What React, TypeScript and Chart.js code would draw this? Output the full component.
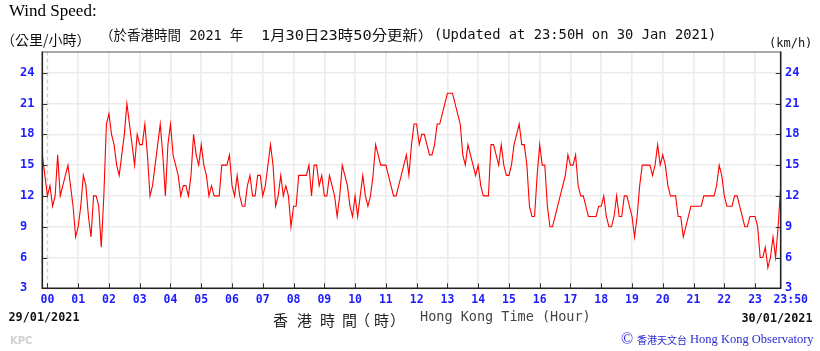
import { useEffect, useRef } from 'react';
import { Chart, registerables } from 'chart.js';

Chart.register(...registerables);

// ---- data ----
const START_MINUTE = -10; // 23:50 on 29/01/2021
const STEP_MINUTES = 5;
const END_MINUTE = 1430; // 23:50 on 30/01/2021

const HOUR_LABELS = ['00', '01', '02', '03', '04', '05', '06', '07', '08', '09', '10', '11',
  '12', '13', '14', '15', '16', '17', '18', '19', '20', '21', '22', '23'];
const END_LABEL = '23:50';
const START_DATE = '29/01/2021';
const END_DATE = '30/01/2021';

const Y_TICKS = [3, 6, 9, 12, 15, 18, 21, 24];
const Y_MIN = 3;
const Y_MAX = 26.07;

// wind speed (km/h), every 5 minutes from 23:50 (29/01) to 23:50 (30/01)
const windSpeed = [
  16, 14,
  12, 13, 11, 12, 16, 12, 13, 14, 15, 13, 11, 8,   // 00
  9, 11, 14, 13, 10, 8, 12, 12, 11, 7, 12, 19,     // 01
  20, 18, 17, 15, 14, 16, 18, 21, 19, 17, 15, 18,  // 02
  17, 17, 19, 16, 12, 13, 15, 17, 19, 16, 12, 17,  // 03
  19, 16, 15, 14, 12, 13, 13, 12, 14, 18, 16, 15,  // 04
  17, 15, 14, 12, 13, 12, 12, 12, 15, 15, 15, 16,  // 05
  13, 12, 14, 12, 11, 11, 13, 14, 12, 12, 14, 14,  // 06
  12, 13, 15, 17, 15, 11, 12, 14, 12, 13, 12, 9,   // 07
  11, 11, 14, 14, 14, 14, 15, 12, 15, 15, 13, 14,  // 08
  12, 12, 14, 13, 12, 10, 12, 15, 14, 13, 11, 10,  // 09
  12, 10, 12, 14, 12, 11, 12, 14, 17, 16, 15, 15,  // 10
  15, 14, 13, 12, 12, 13, 14, 15, 16, 14, 17, 19,  // 11
  19, 17, 18, 18, 17, 16, 16, 17, 19, 19, 20, 21,  // 12
  22, 22, 22, 21, 20, 19, 16, 15, 17, 16, 15, 14,  // 13
  15, 13, 12, 12, 12, 17, 17, 16, 15, 17, 15, 14,  // 14
  14, 15, 17, 18, 19, 17, 17, 15, 11, 10, 10, 14,  // 15
  17, 15, 15, 11, 9, 9, 10, 11, 12, 13, 14, 16,    // 16
  15, 15, 16, 13, 12, 12, 11, 10, 10, 10, 10, 11,  // 17
  11, 12, 10, 9, 9, 10, 12, 10, 10, 12, 12, 11,    // 18
  10, 8, 10, 13, 15, 15, 15, 15, 14, 15, 17, 15,   // 19
  16, 15, 13, 12, 12, 12, 10, 10, 8, 9, 10, 11,    // 20
  11, 11, 11, 11, 12, 12, 12, 12, 12, 13, 15, 14,  // 21
  12, 11, 11, 11, 12, 12, 11, 10, 9, 9, 10, 10,    // 22
  10, 9, 6, 6, 7, 5, 6, 8, 6, 9, 13,               // 23
];

const BLUE = '#1c1cff';
const MONO = '"DejaVu Sans Mono", monospace';

function txt(ctx: CanvasRenderingContext2D, s: string, x: number, y: number, font: string, color: string, align: CanvasTextAlign = 'left') {
  ctx.font = font;
  ctx.fillStyle = color;
  ctx.textAlign = align;
  ctx.textBaseline = 'middle';
  ctx.fillText(s, x, y);
}

// draw text stretched horizontally to span a given width
function txtSpan(ctx: CanvasRenderingContext2D, s: string, x: number, y: number, width: number, font: string, color: string) {
  ctx.save();
  ctx.font = font;
  ctx.fillStyle = color;
  ctx.textAlign = 'left';
  ctx.textBaseline = 'middle';
  const w = ctx.measureText(s).width || width;
  ctx.translate(x, y);
  ctx.scale(width / w, 1);
  ctx.fillText(s, 0, 0);
  ctx.restore();
}

const decor = {
  id: 'decor',
  beforeDatasetsDraw(chart: any) {
    const { ctx, chartArea: a, scales } = chart;
    const x0 = scales.x.getPixelForValue(0);
    ctx.save();
    ctx.strokeStyle = '#d2d2d2';
    ctx.lineWidth = 1.5;
    ctx.setLineDash([4, 3]);
    ctx.beginPath();
    ctx.moveTo(x0, a.top);
    ctx.lineTo(x0, a.bottom);
    ctx.stroke();
    ctx.restore();
  },
  afterDraw(chart: any) {
    const { ctx, chartArea: a, scales } = chart;
    ctx.save();
    // inward tick marks
    ctx.strokeStyle = '#333';
    ctx.lineWidth = 1;
    ctx.beginPath();
    HOUR_LABELS.forEach((_, h) => {
      const x = Math.round(scales.x.getPixelForValue(h * 60)) + 0.5;
      ctx.moveTo(x, a.bottom);
      ctx.lineTo(x, a.bottom - 5);
    });
    Y_TICKS.forEach((v) => {
      const y = Math.round(scales.y.getPixelForValue(v)) + 0.5;
      ctx.moveTo(a.left, y);
      ctx.lineTo(a.left + 5, y);
      ctx.moveTo(a.right, y);
      ctx.lineTo(a.right - 5, y);
    });
    ctx.stroke();
    // box
    ctx.strokeStyle = '#555';
    ctx.lineWidth = 1;
    ctx.beginPath();
    ctx.moveTo(a.left, a.top + 0.5);
    ctx.lineTo(a.right, a.top + 0.5);
    ctx.stroke();
    ctx.strokeStyle = '#222';
    ctx.lineWidth = 1.6;
    ctx.beginPath();
    ctx.moveTo(a.left, a.top);
    ctx.lineTo(a.left, a.bottom);
    ctx.lineTo(a.right, a.bottom);
    ctx.lineTo(a.right, a.top);
    ctx.stroke();

    // header
    ctx.font = '17px "Liberation Serif", serif';
    ctx.fillStyle = '#000';
    ctx.textAlign = 'left';
    ctx.textBaseline = 'alphabetic';
    ctx.fillText('Wind Speed:', 9, 15.5);
    txt(ctx, '（公里/小時）', 1, 40, '14px "Noto Sans CJK TC"', '#111');
    const hdrFont = `13.5px ${MONO}, "Noto Sans CJK TC"`;
    txt(ctx, '（於香港時間 2021 年', 100, 36, hdrFont, '#111');
    txtSpan(ctx, '1月30日23時50分更新）', 261, 36, 172, hdrFont, '#111');
    txt(ctx, '(Updated at 23:50H on 30 Jan 2021)', 434, 35.5, `13.8px ${MONO}`, '#111');
    txt(ctx, '(km/h)', 769, 44, `12px ${MONO}`, '#111');

    // footer
    txt(ctx, END_LABEL, scales.x.getPixelForValue(END_MINUTE) + 10, 300, `bold 11.5px ${MONO}`, BLUE, 'center');
    txt(ctx, START_DATE, 8.5, 318, `bold 11.8px ${MONO}`, '#111');
    txt(ctx, END_DATE, 812.5, 319, `bold 11.8px ${MONO}`, '#111', 'right');
    const cjk = '15px "Noto Sans CJK TC"';
    txt(ctx, '香', 273, 320, cjk, '#222');
    txt(ctx, '港', 297, 320, cjk, '#222');
    txt(ctx, '時', 320, 320, cjk, '#222');
    txt(ctx, '間', 342, 320, cjk, '#222');
    txt(ctx, '（', 355, 320, cjk, '#222');
    txt(ctx, '時', 374, 320, cjk, '#222');
    txt(ctx, '）', 390, 320, cjk, '#222');
    txt(ctx, 'Hong Kong Time (Hour)', 420, 317.5, `13.5px ${MONO}`, '#444');
    txt(ctx, 'KPC', 10, 341, 'bold 10px "DejaVu Sans"', '#d0d0d0');
    const obs = '#2b2bd0';
    txt(ctx, '©', 621, 340, '16px "Liberation Serif"', obs);
    txt(ctx, '香港天文台', 637, 340, '10px "Noto Sans CJK TC"', obs);
    txt(ctx, 'Hong Kong Observatory', 690, 340, '12.5px "Liberation Serif"', obs);
    ctx.restore();
  },
};

export default function App() {
  const ref = useRef<HTMLCanvasElement>(null);
  useEffect(() => {
    document.body.style.margin = '0';
    const canvas = ref.current!;
    const points = windSpeed.map((v, i) => ({ x: START_MINUTE + i * STEP_MINUTES, y: v }));
    const hourTicks = HOUR_LABELS.map((_, h) => ({ value: h * 60 }));
    const yTicks = Y_TICKS.map((v) => ({ value: v }));
    const chart = new Chart(canvas, {
      type: 'line',
      data: {
        datasets: [{
          data: points,
          borderColor: '#ff0000',
          borderWidth: 1.1,
          pointRadius: 0,
          tension: 0,
          fill: false,
          yAxisID: 'y',
        }],
      },
      options: {
        animation: false,
        responsive: false,
        devicePixelRatio: 1,
        layout: { padding: { left: 20, right: 0, top: 51.5, bottom: 0 } },
        plugins: { legend: { display: false }, tooltip: { enabled: false } },
        scales: {
          x: {
            type: 'linear',
            min: START_MINUTE,
            max: END_MINUTE,
            afterBuildTicks: (s: any) => { s.ticks = hourTicks.map((t) => ({ ...t })); },
            afterFit: (s: any) => { s.height = 62.7; },
            border: { display: false },
            grid: {
              color: (c: any) => (c.tick && c.tick.value === 0 ? 'rgba(0,0,0,0)' : '#ebebeb'),
              lineWidth: 1.6,
              drawTicks: false,
            },
            ticks: {
              autoSkip: false,
              maxRotation: 0,
              minRotation: 0,
              padding: 4.8,
              color: BLUE,
              font: { family: MONO, size: 11.5, weight: 'bold' },
              callback: (v: any) => HOUR_LABELS[Math.round(Number(v) / 60)] ?? '',
            },
          },
          y: {
            type: 'linear',
            position: 'left',
            min: Y_MIN,
            max: Y_MAX,
            afterBuildTicks: (s: any) => { s.ticks = yTicks.map((t) => ({ ...t })); },
            afterFit: (s: any) => { s.width = 22.3; },
            border: { display: false },
            grid: { color: '#ebebeb', lineWidth: 1.6, drawTicks: false },
            ticks: {
              crossAlign: 'far',
              padding: 0,
              color: BLUE,
              font: { family: MONO, size: 12, weight: 'bold' },
              callback: (v: any) => String(v),
            },
          },
          y2: {
            type: 'linear',
            position: 'right',
            min: Y_MIN,
            max: Y_MAX,
            afterBuildTicks: (s: any) => { s.ticks = yTicks.map((t) => ({ ...t })); },
            afterFit: (s: any) => { s.width = 39.3; },
            border: { display: false },
            grid: { drawOnChartArea: false, drawTicks: false },
            ticks: {
              crossAlign: 'near',
              padding: 4.3,
              color: BLUE,
              font: { family: MONO, size: 12, weight: 'bold' },
              callback: (v: any) => String(v),
            },
          },
        },
      } as any,
      plugins: [decor],
    });
    return () => chart.destroy();
  }, []);
  return (
    <div style={{ width: 820, height: 351, background: '#fff' }}>
      <canvas ref={ref} width={820} height={351} style={{ display: 'block', width: 820, height: 351 }} />
    </div>
  );
}
